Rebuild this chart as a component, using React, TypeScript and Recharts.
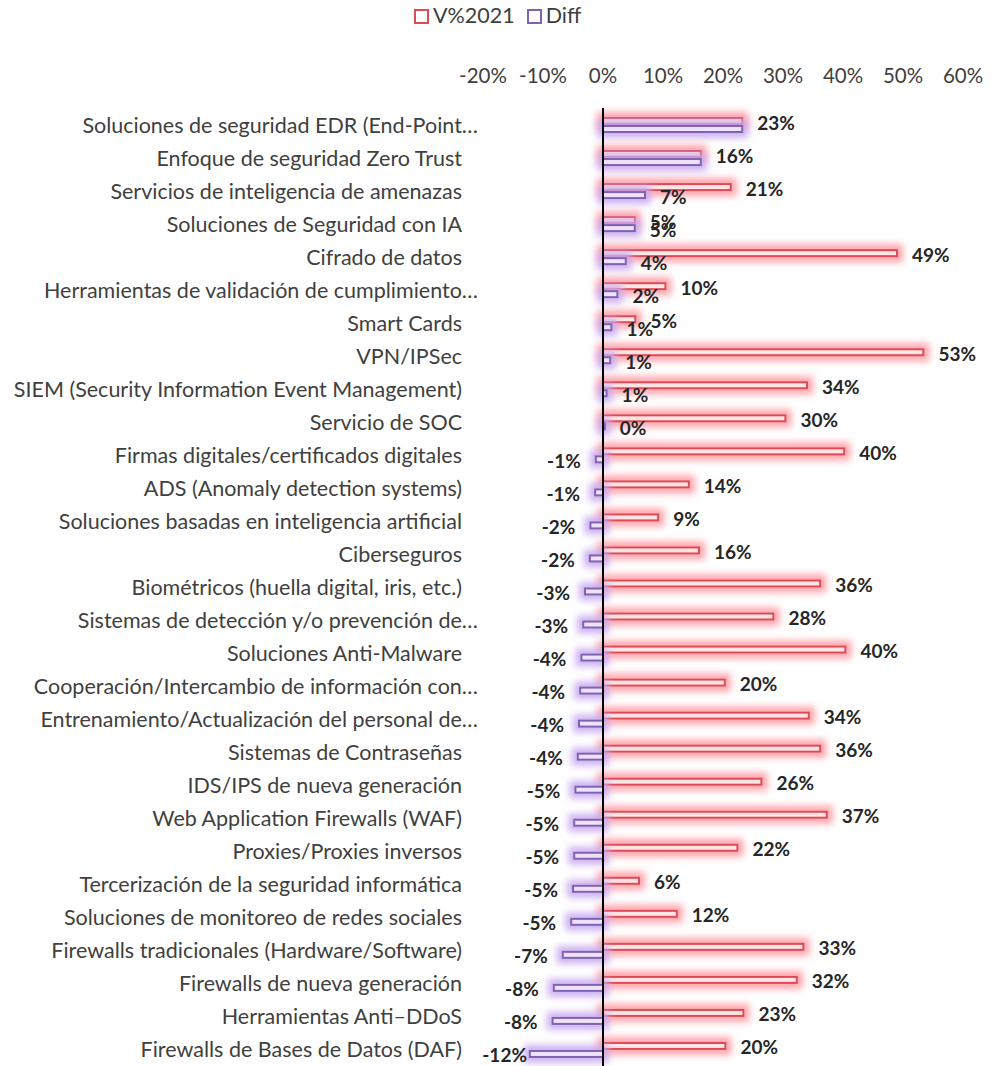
import { BarChart, Bar, XAxis, YAxis, ReferenceLine, LabelList } from "recharts"

const categories = [
  "Soluciones de seguridad EDR (End-Point…",
  "Enfoque de seguridad Zero Trust",
  "Servicios de inteligencia de amenazas",
  "Soluciones de Seguridad con IA",
  "Cifrado de datos",
  "Herramientas de validación de cumplimiento…",
  "Smart Cards",
  "VPN/IPSec",
  "SIEM (Security Information Event Management)",
  "Servicio de SOC",
  "Firmas digitales/certificados digitales",
  "ADS (Anomaly detection systems)",
  "Soluciones basadas en inteligencia artificial",
  "Ciberseguros",
  "Biométricos (huella digital, iris, etc.)",
  "Sistemas de detección y/o prevención de…",
  "Soluciones Anti-Malware",
  "Cooperación/Intercambio de información con…",
  "Entrenamiento/Actualización del personal de…",
  "Sistemas de Contraseñas",
  "IDS/IPS de nueva generación",
  "Web Application Firewalls (WAF)",
  "Proxies/Proxies inversos",
  "Tercerización de la seguridad informática",
  "Soluciones de monitoreo de redes sociales",
  "Firewalls tradicionales (Hardware/Software)",
  "Firewalls de nueva generación",
  "Herramientas Anti–DDoS",
  "Firewalls de Bases de Datos (DAF)",
]

const v2021 = [
  23.2, 16.3, 21.3, 5.3, 49, 10.4, 5.4, 53.4, 34, 30.4,
  40.2, 14.3, 9.2, 16, 36.2, 28.4, 40.4, 20.3, 34.3, 36.2,
  26.4, 37.3, 22.4, 6, 12.3, 33.4, 32.3, 23.4, 20.4,
]

const diff = [
  23.2, 16.3, 7, 5.3, 3.8, 2.4, 1.4, 1.2, 0.6, 0.3,
  -1.2, -1.3, -2.1, -2.2, -3, -3.3, -3.6, -3.8, -4, -4.2,
  -4.6, -4.8, -4.8, -5, -5.3, -6.7, -8.2, -8.4, -12.2,
]

// Diff labels hidden in the original (they coincide with V%2021)
const hiddenDiffLabels = [0, 1]

const xTicks = [-20, -10, 0, 10, 20, 30, 40, 50, 60]

const data = categories.map((name, i) => ({ name, v: v2021[i], d: diff[i] }))

const FONT = "Lato, 'Open Sans', sans-serif"
const RED = "#df4a55"
const RED_FILL = "#ffe4e5"
const PURPLE = "#8062b4"
const PURPLE_FILL = "#ede2f8"

function glowShape(stroke: string, fill: string, filter: string) {
  return (p: any) => {
    const x = Math.min(p.x, p.x + p.width)
    const w = Math.abs(p.width)
    if (!w) return <g />
    return (
      <rect
        x={x}
        y={p.y + 1}
        width={w}
        height={p.height - 2}
        fill={fill}
        stroke={stroke}
        strokeWidth={2}
        filter={filter}
      />
    )
  }
}

function YTick({ x, y, payload }: any) {
  const ell = String(payload.value).endsWith("…")
  return (
    <text
      x={x + (ell ? 16 : 0)}
      y={y}
      textAnchor="end"
      dominantBaseline="central"
      fontFamily={FONT}
      fontSize={21.5}
      fill="#404040"
    >
      {payload.value}
    </text>
  )
}

function XTick({ x, y, payload }: any) {
  return (
    <text x={x} y={y} textAnchor="middle" dominantBaseline="central" fontFamily={FONT} fontSize={20.5} fill="#404040">
      {payload.value}%
    </text>
  )
}

function valueLabel(skip: number[]) {
  return (p: any) => {
    if (skip.includes(p.index)) return null
    const val = Number(p.value)
    const neg = val < 0
    const cy = p.y + p.height / 2 + 1
    let tx = neg ? p.x + p.width - 15 : p.x + p.width + 15
    // keep negative labels inside the chart area like Excel does
    if (neg) tx = Math.max(tx, 527)
    return (
      <text
        x={tx}
        y={cy}
        textAnchor={neg ? "end" : "start"}
        dominantBaseline="central"
        fontFamily={FONT}
        fontWeight={700}
        fontSize={19}
        fill="#262626"
      >
        {Math.round(val)}%
      </text>
    )
  }
}

function LegendBox() {
  const item = (color: string, label: string) => (
    <span style={{ display: "inline-flex", alignItems: "center", marginRight: 12 }}>
      <span
        style={{
          display: "inline-block",
          width: 11,
          height: 11,
          border: `2px solid ${color}`,
          marginRight: 4,
          marginTop: 2,
        }}
      />
      {label}
    </span>
  )
  return (
    <div
      style={{
        position: "absolute",
        left: 414,
        top: 2,
        fontFamily: FONT,
        fontSize: 21.5,
        color: "#404040",
        whiteSpace: "nowrap",
      }}
    >
      {item(RED, "V%2021")}
      {item(PURPLE, "Diff")}
    </div>
  )
}

export default function App() {
  return (
    <div style={{ position: "fixed", left: 0, top: 0, width: 996, height: 1066, background: "#fff" }}>
      <LegendBox />
      <BarChart
        width={996}
        height={1066}
        data={data}
        layout="vertical"
        margin={{ top: 78, right: 33, bottom: 0, left: 0 }}
        barGap={0}
        barSize={8}
      >
        <defs>
          <filter id="glowRed" filterUnits="userSpaceOnUse" x="0" y="0" width="996" height="1066">
            <feMorphology in="SourceAlpha" operator="dilate" radius="5" result="d" />
            <feGaussianBlur in="d" stdDeviation="3.5" result="b" />
            <feFlood floodColor="#ff9aa3" floodOpacity="0.9" />
            <feComposite in2="b" operator="in" result="g" />
            <feMerge>
              <feMergeNode in="g" />
              <feMergeNode in="SourceGraphic" />
            </feMerge>
          </filter>
          <filter id="glowPurple" filterUnits="userSpaceOnUse" x="0" y="0" width="996" height="1066">
            <feMorphology in="SourceAlpha" operator="dilate" radius="5" result="d" />
            <feGaussianBlur in="d" stdDeviation="3.5" result="b" />
            <feFlood floodColor="#c8aaf0" floodOpacity="0.9" />
            <feComposite in2="b" operator="in" result="g" />
            <feMerge>
              <feMergeNode in="g" />
              <feMergeNode in="SourceGraphic" />
            </feMerge>
          </filter>
        </defs>
        <XAxis
          type="number"
          orientation="top"
          domain={[-20, 60]}
          ticks={xTicks}
          height={30}
          axisLine={false}
          tickLine={false}
          tickSize={0}
          tickMargin={33}
          tick={<XTick />}
        />
        <YAxis
          type="category"
          dataKey="name"
          width={483}
          axisLine={false}
          tickLine={false}
          tickSize={0}
          tickMargin={21}
          interval={0}
          tick={<YTick />}
        />
        <Bar dataKey="v" name="V%2021" isAnimationActive={false} shape={glowShape(RED, RED_FILL, "url(#glowRed)")}>
          <LabelList dataKey="v" content={valueLabel([])} />
        </Bar>
        <Bar dataKey="d" name="Diff" isAnimationActive={false} shape={glowShape(PURPLE, PURPLE_FILL, "url(#glowPurple)")}>
          <LabelList dataKey="d" content={valueLabel(hiddenDiffLabels)} />
        </Bar>
        <ReferenceLine x={0} stroke="#000" strokeWidth={2} />
      </BarChart>
    </div>
  )
}
